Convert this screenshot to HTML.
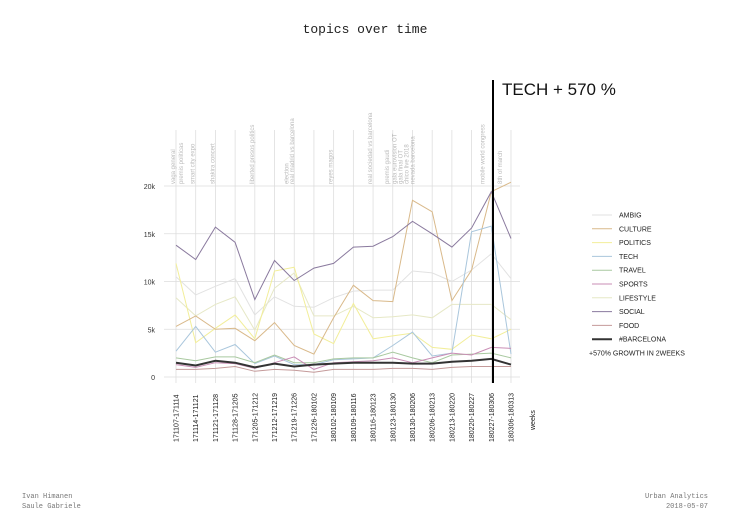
<!DOCTYPE html>
<html><head><meta charset="utf-8">
<style>
body{margin:0;background:#fff;width:730px;height:516px;overflow:hidden;font-family:"Liberation Sans",sans-serif;}
svg{display:block}
</style></head>
<body>
<svg id="chart" width="730" height="516">
<text x="365" y="33" text-anchor="middle" font-family="Liberation Mono,monospace" font-size="13" fill="#222">topics over time</text>
<text x="502" y="95" font-size="17" fill="#111">TECH + 570 %</text>
<text x="22" y="498" font-family="Liberation Mono,monospace" font-size="7" fill="#777">Ivan Himanen</text>
<text x="22" y="508" font-family="Liberation Mono,monospace" font-size="7" fill="#777">Saule Gabriele</text>
<text x="708" y="498" text-anchor="end" font-family="Liberation Mono,monospace" font-size="7" fill="#777">Urban Analytics</text>
<text x="708" y="508" text-anchor="end" font-family="Liberation Mono,monospace" font-size="7" fill="#777">2018-05-07</text>
<g id="grid"></g><g id="series"></g><g id="legend"></g>
</svg>
<script>
const weeks=["171107-171114","171114-171121","171121-171128","171128-171205","171205-171212","171212-171219","171219-171226","171226-180102","180102-180109","180109-180116","180116-180123","180123-180130","180130-180206","180206-180213","180213-180220","180220-180227","180227-180306","180306-180313"];
const yTicks=[0,5000,10000,15000,20000];
const yTickLabels=["0","5k","10k","15k","20k"];
const ambig=[10.5,8.6,9.5,10.3,6.5,8.4,7.4,7.3,8.3,9.0,9.1,9.1,11.1,10.9,10.0,11.2,12.9,10.3];
const culture=[5.3,6.4,5.0,5.1,3.8,5.7,3.3,2.4,6.2,9.6,8.0,7.9,18.5,17.3,8.0,11.2,19.4,20.4];
const politics=[11.9,3.6,5.1,6.5,4.0,11.1,11.5,4.5,3.5,7.7,4.0,4.3,4.6,3.1,2.9,4.4,4.0,5.0];
const tech=[2.7,5.3,2.6,3.4,1.4,2.2,1.3,1.3,1.8,1.9,2.0,3.3,4.7,2.2,2.5,15.2,15.8,2.4];
const travel=[2.0,1.7,2.1,2.1,1.5,2.3,1.5,1.5,1.9,2.0,2.0,2.6,2.0,1.5,2.3,2.4,2.5,2.0];
const sports=[1.3,1.0,1.5,1.4,0.9,1.5,2.1,0.8,1.5,1.6,1.7,2.0,1.5,2.0,2.5,2.3,3.1,3.0];
const lifestyle=[8.3,6.4,7.6,8.4,4.9,9.3,10.9,6.4,6.4,7.4,6.2,6.3,6.5,6.2,7.6,7.6,7.6,6.0];
const social=[13.8,12.3,15.7,14.1,8.1,12.2,10.1,11.4,11.9,13.6,13.7,14.7,16.3,15.0,13.6,15.6,19.4,14.5];
const food=[0.8,0.8,0.9,1.1,0.6,0.8,0.7,0.5,0.8,0.8,0.8,0.9,0.9,0.8,1.0,1.1,1.1,1.1];
const barcelona=[1.5,1.2,1.7,1.5,1.0,1.4,1.1,1.3,1.4,1.5,1.5,1.5,1.4,1.4,1.6,1.7,1.9,1.3];
const seriesNames=["AMBIG","CULTURE","POLITICS","TECH","TRAVEL","SPORTS","LIFESTYLE","SOCIAL","FOOD","#BARCELONA"];
const events=[[0,"vaga general"],[0.4,"premis politicas"],[1,"smart city expo"],[2,"shakira concert"],[4,"liberted presos politics"],[5.75,"election"],[6.05,"real madrid vs barcelona"],[8,"reyes magos"],[10,"real sociedad vs barcelona"],[10.85,"premis gaudi"],[11.25,"gala eurovision OT"],[11.55,"gala final OT"],[11.85,"chico live 2018"],[12.15,"nevada barcelona"],[15.7,"mobile world congress"],[16.6,"8th of march"]];
const NS="http://www.w3.org/2000/svg";
const X0=176,X1=511,Y0=377,Y20=186;
function xs(i){return X0+i*(X1-X0)/(weeks.length-1);}
function ys(v){return Y0-(v/20000)*(Y0-Y20);}
function mk(tag,attrs,parent){const e=document.createElementNS(NS,tag);for(const k in attrs)e.setAttribute(k,attrs[k]);parent.appendChild(e);return e;}
const grid=document.getElementById('grid'),ser=document.getElementById('series'),leg=document.getElementById('legend');
yTicks.forEach((t,i)=>{
 const l=mk('line',{x1:164,x2:520,y1:ys(t),y2:ys(t),stroke:'#ddd','stroke-width':0.8},grid);
 
 
 const tx=mk('text',{x:155,y:ys(t)+3,'text-anchor':'end','font-size':7,fill:'#333'},grid);
 tx.textContent=yTickLabels[i];
 
 
});
weeks.forEach((w,i)=>{
 const l=mk('line',{x1:xs(i),x2:xs(i),y1:130,y2:383,stroke:'#ddd','stroke-width':0.8},grid);
 
 
 const tx=mk('text',{x:0,y:0,transform:`translate(${xs(i)+2.5},442) rotate(-90)`,'font-size':7,fill:'#222'},grid);
 tx.textContent=w;
 
 
});
const wk=mk('text',{x:0,y:0,transform:'translate(535,430) rotate(-90)','font-size':7,fill:'#222'},grid);
wk.textContent='weeks';


events.forEach(e=>{
 const tx=mk('text',{x:0,y:0,transform:`translate(${xs(e[0])-1},184) rotate(-90)`,'font-size':6,fill:'#bbb'},grid);
 tx.textContent=e[1];
 
 
});
const data=[ambig,culture,politics,tech,travel,sports,lifestyle,social,food,barcelona];
const colors=['#e2e2e2','#d9b98a','#f2ee9a','#a9c6dc','#a9c9a0','#c98db5','#e6e8c6','#8a7a9e','#c49a9a','#333'];
const widths=[1,1,1,1,1,1,1,1,1,2];
const order=[0,6,2,1,3,4,5,8,7,9];
order.forEach(s=>{
 const d=data[s].map((v,i)=>(i?'L':'M')+xs(i).toFixed(1)+','+ys(v*1000).toFixed(1)).join('');
 const p=mk('path',{d:d,fill:'none',stroke:colors[s],'stroke-width':widths[s]},ser);
 
 
});
const vl=mk('line',{x1:493,x2:493,y1:80,y2:383,stroke:'#000','stroke-width':2},ser);


seriesNames.forEach((n,i)=>{
 const y=215+i*13.8;
 const l=mk('line',{x1:592,x2:612,y1:y,y2:y,stroke:colors[i],'stroke-width':widths[i]},leg);
 
 
 const t=mk('text',{x:619,y:y+2.5,'font-size':7,fill:'#222'},leg);
 t.textContent=n;
 
 
});
const g=mk('text',{x:589,y:215+10*13.8+2.5,'font-size':7,fill:'#222'},leg);
g.textContent='+570%  GROWTH IN 2WEEKS';


</script>
</body></html>
